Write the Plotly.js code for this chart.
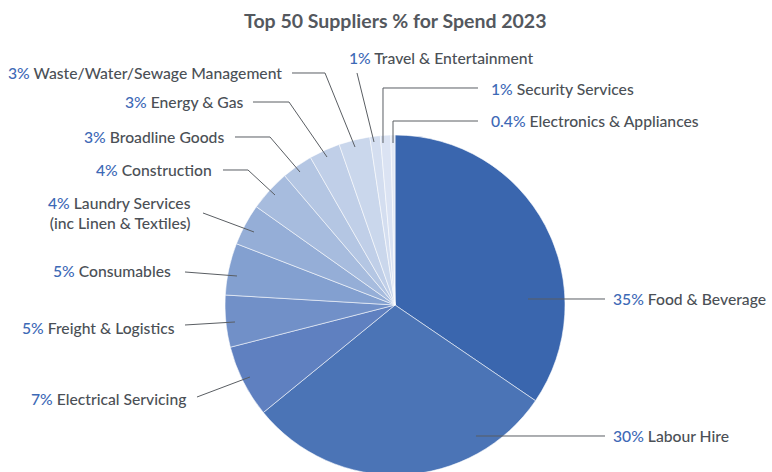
<!DOCTYPE html>
<html>
<head>
<meta charset="utf-8">
<script src="https://cdn.plot.ly/plotly-3.0.1.min.js"></script>
<style>
html,body{margin:0;padding:0;overflow:hidden;background:#fff;}
#chart{width:772px;height:475px;}
</style>
</head>
<body>
<div id="chart"></div>
<script>
// ---- data ----
const categories = ["Food & Beverage","Labour Hire","Electrical Servicing","Freight & Logistics","Consumables",
  "Laundry Services<br>(inc Linen & Textiles)","Construction","Broadline Goods","Energy & Gas",
  "Waste/Water/Sewage Management","Travel & Entertainment","Security Services","Electronics & Appliances"];
const values = [35, 30, 7, 5, 5, 4, 4, 3, 3, 3, 1, 1, 0.4];
const colors = ["#3a66ae","#4b74b6","#5f80c0","#7190c8","#83a0d0","#95aed7","#a7bcde","#b4c6e3","#c0cfe8","#cad7ec","#d4def0","#dbe3f3","#e3e9f5"];

// ---- label layout (pixel positions of text and leader lines) ----
const W = 772, H = 475;
const labelLayout = [
  {x:611, y:299, side:"left",  line:[[528,299],[605,299]]},
  {x:611, y:436, side:"left",  line:[[476,436],[605,436]]},
  {x:188, y:399, side:"right", line:[[197,397],[250,377]]},
  {x:177, y:328, side:"right", line:[[185,325],[235,322]]},
  {x:173, y:271, side:"right", line:[[185,272],[237,276]]},
  {x:193, y:213, side:"right", line:[[203,213],[254,232]]},
  {x:214, y:170, side:"right", line:[[223,170],[248,170],[275,195]]},
  {x:226, y:137, side:"right", line:[[235,137],[270,137],[300,172]]},
  {x:246, y:102, side:"right", line:[[253,102],[289,102],[327,157]]},
  {x:284, y:73,  side:"right", line:[[292,73],[325,73],[355,147]]},
  {x:347, y:58,  side:"left",  line:[[357,73],[374,142]]},
  {x:489, y:89,  side:"left",  line:[[478,88],[383,88],[383,143]]},
  {x:489, y:121, side:"left",  line:[[478,121],[393,121],[393,143]]}
];

const px = x => x / W;
const py = y => 1 - y / H;

const annotations = [];
const shapes = [];
categories.forEach((c, i) => {
  const L = labelLayout[i];
  annotations.push({
    xref:"paper", yref:"paper", x:px(L.x), y:py(L.y),
    xanchor: L.side === "left" ? "left" : "right", yanchor:"middle",
    align: L.side === "left" ? "left" : "right",
    showarrow:false,
    text:'<span style="color:#3d69b6">' + values[i] + '%</span> ' + c,
    font:{family:"Lato, 'Open Sans', sans-serif", size:15.7, color:"#4b5056", weight:500}
  });
  const d = L.line.map((p, k) => (k === 0 ? "M" : "L") + px(p[0]).toFixed(5) + "," + py(p[1]).toFixed(5)).join(" ");
  shapes.push({type:"path", xref:"paper", yref:"paper", path:d, line:{color:"#5a5e63", width:1}});
});

const trace = {
  type:"pie",
  labels: categories,
  values: values,
  sort:false,
  direction:"clockwise",
  rotation:0,
  textinfo:"none",
  hoverinfo:"label+percent",
  marker:{colors: colors, line:{color:"rgba(255,255,255,0.55)", width:1}},
  domain:{x:[225/W, 565/W], y:[0, 340/H]},
  showlegend:false
};

const layout = {
  width: W, height: H,
  margin:{l:0,r:0,t:0,b:0},
  paper_bgcolor:"#fff",
  title:{text:"<b>Top 50 Suppliers % for Spend 2023</b>", x:0.512, xanchor:"center", y:1 - 21/H, yanchor:"middle",
    font:{family:"Lato, 'Open Sans', sans-serif", size:19.5, color:"#54585e"}},
  annotations: annotations,
  shapes: shapes
};

Plotly.newPlot("chart", [trace], layout, {displayModeBar:false, staticPlot:true});
</script>
</body>
</html>
